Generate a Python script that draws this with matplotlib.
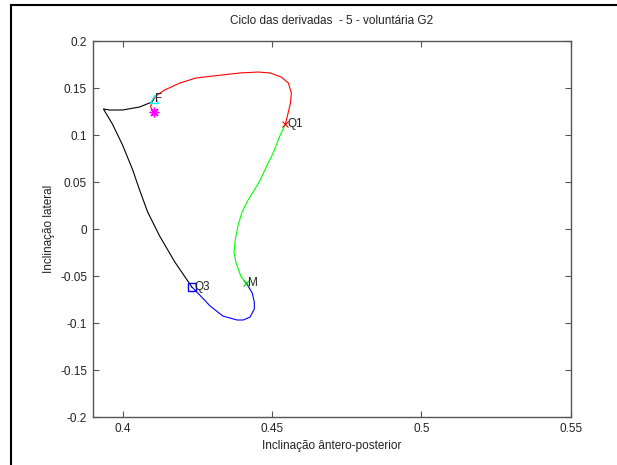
import matplotlib
matplotlib.use("Agg")
import matplotlib.pyplot as plt
from matplotlib.lines import Line2D

matplotlib.rcParams['font.family'] = ['Liberation Sans', 'DejaVu Sans']
matplotlib.rcParams['font.size'] = 8.5

# trajetória dividida em quartos do ciclo
x_q1 = [0.4104, 0.4094, 0.4098, 0.4111, 0.4141, 0.4192, 0.4245, 0.4303, 0.4393,
        0.4454, 0.4494, 0.4531, 0.4555, 0.4565, 0.4562, 0.4555, 0.4545]
y_q1 = [0.1245, 0.1298, 0.1351, 0.1415, 0.1479, 0.1553, 0.1606, 0.1628, 0.1660,
        0.1670, 0.1660, 0.1617, 0.1553, 0.1447, 0.1340, 0.1245, 0.1117]

x_q2 = [0.4545, 0.4525, 0.4504, 0.4481, 0.4461, 0.4437, 0.4420, 0.4400, 0.4387,
        0.4377, 0.4373, 0.4380, 0.4397, 0.4414]
y_q2 = [0.1117, 0.0979, 0.0808, 0.0660, 0.0521, 0.0394, 0.0309, 0.0181, 0.0043,
        -0.0117, -0.0245, -0.0362, -0.0511, -0.0574]

x_q3 = [0.4414, 0.4434, 0.4441, 0.4441, 0.4427, 0.4404, 0.4383, 0.4336, 0.4293,
        0.4252, 0.4232]
y_q3 = [-0.0574, -0.0681, -0.0777, -0.0851, -0.0936, -0.0968, -0.0968, -0.0926,
        -0.0819, -0.0681, -0.0617]

x_q4 = [0.4232, 0.4175, 0.4124, 0.4084, 0.4057, 0.4034, 0.4000, 0.3966, 0.3936,
        0.3956, 0.4000, 0.4057, 0.4098, 0.4104]
y_q4 = [-0.0617, -0.0351, -0.0074, 0.0181, 0.0415, 0.0628, 0.0894, 0.1117, 0.1277,
        0.1266, 0.1266, 0.1298, 0.1351, 0.1383]

xticks = [0.4, 0.45, 0.5, 0.55]
yticks = [-0.2, -0.15, -0.1, -0.05, 0, 0.05, 0.1, 0.15, 0.2]
xtick_labels = ['0.4', '0.45', '0.5', '0.55']
ytick_labels = ['-0.2', '-0.15', '-0.1', '-0.05', '0', '0.05', '0.1', '0.15', '0.2']

fig = plt.figure(figsize=(6.17, 4.65), dpi=100)
ax = fig.add_axes([0.1502, 0.1032, 0.7748, 0.8086])

lw = 0.8
ax.plot(x_q1, y_q1, color='red', lw=lw)
ax.plot(x_q2, y_q2, color='#00ff00', lw=lw)
ax.plot(x_q3, y_q3, color='blue', lw=lw)
ax.plot(x_q4, y_q4, color='black', lw=lw)

# marcadores dos pontos notáveis
ax.plot(x_q1[0], y_q1[0], marker=(8, 2, 0), color='magenta', ms=7, mew=1, ls='none')
ax.plot(x_q1[-1], y_q1[-1], marker='x', color='red', ms=4, mew=0.8, ls='none')
ax.plot(x_q2[-1], y_q2[-1], marker='x', color='#00cc00', ms=4, mew=0.8, ls='none')
ax.plot(x_q3[-1], y_q3[-1], marker='s', mfc='none', mec='blue', ms=6, mew=1, ls='none')
ax.plot(x_q4[-1], y_q4[-1], marker='^', mfc='none', mec='cyan', ms=6, mew=1, ls='none')

ax.text(x_q1[-1] + 0.0006, y_q1[-1], 'Q1', va='center', ha='left', color='#222222')
ax.text(x_q2[-1] + 0.0006, y_q2[-1], 'M', va='center', ha='left', color='#222222')
ax.text(x_q3[-1] + 0.0008, y_q3[-1], 'Q3', va='center', ha='left', color='#222222')
ax.text(x_q4[-1] + 0.0006, y_q4[-1], 'F', va='center', ha='left', color='#222222')

ax.set_xlim(0.39, 0.55)
ax.set_ylim(-0.2, 0.2)
ax.set_xticks(xticks)
ax.set_xticklabels(xtick_labels)
ax.set_yticks(yticks)
ax.set_yticklabels(ytick_labels)
ax.tick_params(direction='in', top=True, right=True, length=4, color='#555555',
               labelcolor='#222222', labelsize=8.5, pad=4)
for s in ax.spines.values():
    s.set_color('#555555')
    s.set_linewidth(1)

ax.set_title('Ciclo das derivadas  - 5 - voluntária G2', fontsize=8.5, color='#222222', pad=12)
ax.set_xlabel('Inclinação ântero-posterior', fontsize=8.5, color='#222222', labelpad=4)
ax.set_ylabel('Inclinação lateral', fontsize=8.5, color='#222222', labelpad=4)

# moldura da janela
fig.add_artist(Line2D([11 / 617, 11 / 617], [0, 1 - 5 / 465], transform=fig.transFigure,
                      color='black', lw=1.5))
fig.add_artist(Line2D([11 / 617, 1], [1 - 5 / 465, 1 - 5 / 465], transform=fig.transFigure,
                      color='black', lw=1.5))

fig.savefig('out.png', dpi=100)
